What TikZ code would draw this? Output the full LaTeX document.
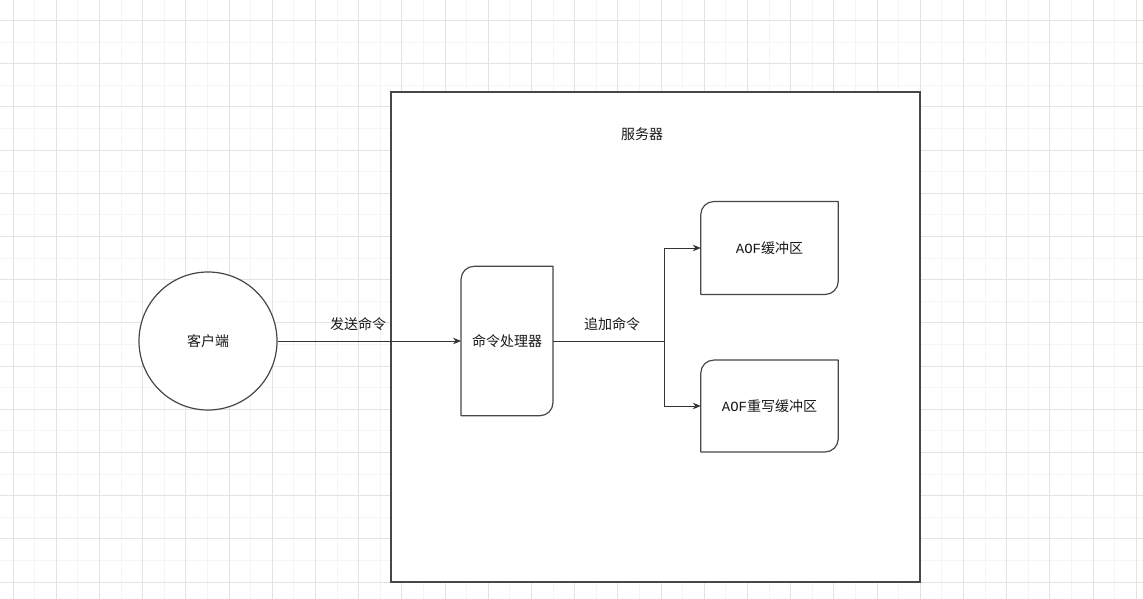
\documentclass[tikz,border=0pt]{standalone}
\usepackage{fontspec}
\newfontfamily\cjk{Noto Sans CJK SC}
\newfontfamily\aoffont{Liberation Mono}
\usetikzlibrary{arrows.meta,calc}
\tikzset{
  majorgrid/.style={draw=black!11, line width=1pt},
  minorgrid/.style={draw=black!4, line width=1pt},
  outline/.style={draw=black!72, line width=1.2pt},
  holder/.style={draw=none, fill=white, inner sep=0pt, font=\cjk\fontsize{14}{16}\selectfont},
  lbl/.style={inner sep=0pt, font=\cjk\fontsize{14}{16}\selectfont, text=black!90},
  conn/.style={draw=black!80, line width=1pt},
  tip/.style={-{Stealth[length=8pt,width=6.5pt]}},
}
\newcommand\halfroundbox[1]{%
  \draw[outline, line join=round] let \p1=(#1.north west), \p2=(#1.south east) in
    (\x1,\y2) -- (\x1,\y1-13pt) arc[start angle=180, end angle=90, radius=13pt]
    -- (\x2,\y1) -- (\x2,\y2+13pt) arc[start angle=0, end angle=-90, radius=13pt]
    -- cycle;
}
\begin{document}
\begin{tikzpicture}[x=1pt,y=-1pt]
\useasboundingbox[fill=white] (0,0) rectangle (1143,599);
% grid
\foreach \k in {0,...,25} { \draw[minorgrid] ({34.6+43.2*\k},0) -- ({34.6+43.2*\k},599); }
\foreach \k in {0,...,12} { \draw[minorgrid] (0,{42.1+43.2*\k}) -- (1143,{42.1+43.2*\k}); }
\foreach \k in {0,...,26} { \draw[majorgrid] ({13+43.2*\k},0) -- ({13+43.2*\k},599); }
\foreach \k in {0,...,13} { \draw[majorgrid] (0,{20.5+43.2*\k}) -- (1143,{20.5+43.2*\k}); }
% server
\node[outline, fill=white, minimum width=529pt, minimum height=490pt, inner sep=0pt] (server) at (655.5,337) {};
\node[lbl] (srvlabel) at (642,134) {服务器};
% client
\node[outline, circle, fill=white, minimum size=138pt, inner sep=0pt, font=\cjk\fontsize{14}{16}\selectfont, text=black!90] (client) at (208,341) {客户端};
% processor
\node[holder, minimum width=91.5pt, minimum height=149pt, text=black!90] (proc) at (507,341) {命令处理器};
\halfroundbox{proc}
% AOF buffers
\node[holder, minimum width=137pt, minimum height=92.5pt, text=black!90] (aof) at (769.5,248) {\aoffont AOF\cjk 缓冲区};
\halfroundbox{aof}
\node[holder, minimum width=137pt, minimum height=91.5pt, text=black!90] (aofrw) at (769.5,406) {\aoffont AOF\cjk 重写缓冲区};
\halfroundbox{aofrw}
% connectors
\coordinate (j) at (664,341);
\draw[conn, tip] (client.east) -- (proc.west);
\node[lbl] (sendlbl) at (358,324) {发送命令};
\draw[conn] (proc.east) -- (j);
\node[lbl] (addlbl) at (612,324) {追加命令};
\draw[conn, tip] (j) |- (aof.west);
\draw[conn, tip] (j) |- (aofrw.west);
\end{tikzpicture}
\end{document}
